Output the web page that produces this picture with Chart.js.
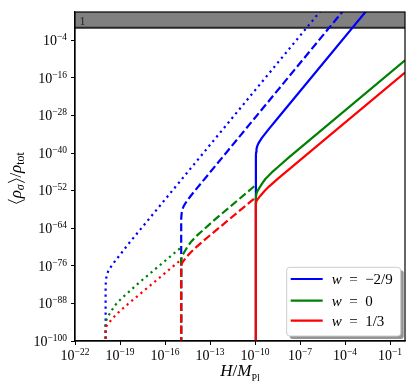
<!DOCTYPE html>
<html><head><meta charset="utf-8">
<script src="https://cdn.jsdelivr.net/npm/chart.js@4.4.1/dist/chart.umd.min.js"></script>
<style>html,body{margin:0;padding:0;background:#fff;}#wrap{width:418px;height:391px;position:relative;}</style>
</head><body><div id="wrap"><canvas id="c" width="418" height="391"></canvas></div>
<script>
// ---- tick exponents (log10) ----
const xTickExponents = [-22, -19, -16, -13, -10, -7, -4, -1];
const yTickExponents = [-100, -88, -76, -64, -52, -40, -28, -16, -4];
const legendLabels = ['\u22122/9', '0', '1/3'];
const seriesColors = ['#0000ff', '#008000', '#ff0000'];

// ---- curves: log10(H/M_Pl) and log10(<rho_sigma>/rho_tot) ----
// w = -2/9 (blue)
const blueDottedLogH   = [-19.96, -19.96, -19.945, -19.92, -19.87, -19.8, -19.7, -19.55, -19.33, -19.0, -18.5, -17.78, -10, -4];
const blueDottedLogRho = [-105, -82.6, -81.2, -80.0, -78.9, -77.9, -77.0, -75.9, -74.5, -72.5, -69.4, -65.2, -20.0, 14.8];
const blueDashedLogH   = [-14.92, -14.92, -14.905, -14.88, -14.83, -14.76, -14.66, -14.52, -14.3, -14.0, -13.5, -5.05, -3];
const blueDashedLogRho = [-105, -61.2, -60.0, -58.9, -57.9, -57.0, -56.2, -55.2, -53.8, -52.0, -49.1, 0, 11.9];
const blueSolidLogH    = [-9.94, -9.94, -9.925, -9.9, -9.85, -9.78, -9.68, -9.54, -9.32, -9.0, -8.5, -2];
const blueSolidLogRho  = [-105, -40.8, -39.7, -38.7, -37.8, -37.0, -36.2, -35.2, -33.8, -31.9, -29.0, 8.7];
// w = 0 (green)
const greenDottedLogH   = [-19.96, -19.96, -19.93, -19.85, -19.74, -19.55, -19.33, -18.9, -18.45, -17.78, -14.92];
const greenDottedLogRho = [-105, -95, -93.6, -92.6, -91.7, -90.2, -88.6, -86.4, -84.5, -81.6, -70.1];
const greenDashedLogH   = [-14.92, -14.92, -14.89, -14.81, -14.7, -14.51, -14.29, -13.86, -13.41, -12.74, -9.94];
const greenDashedLogRho = [-105, -74.5, -73.3, -72.4, -71.5, -70.0, -68.5, -66.3, -64.4, -61.5, -50.2];
const greenSolidLogH    = [-9.94, -9.94, -9.91, -9.83, -9.72, -9.53, -9.31, -8.88, -8.43, -7.76, 0];
const greenSolidLogRho  = [-105, -54.5, -53.0, -52.1, -51.2, -49.8, -48.3, -46.2, -44.3, -41.5, -10.4];
// w = 1/3 (red)
const redDottedLogH   = [-19.96, -19.96, -19.93, -19.85, -19.67, -19.4, -19.11, -18.45, -17.89, -14.92];
const redDottedLogRho = [-105, -96.3, -95.5, -94.9, -93.8, -92.3, -90.9, -88.1, -85.9, -74.0];
const redDashedLogH   = [-14.92, -14.92, -14.89, -14.81, -14.63, -14.36, -14.07, -13.41, -12, -9.94];
const redDashedLogRho = [-105, -76.3, -75.4, -74.7, -73.6, -72.1, -70.7, -67.9, -62.3, -54.1];
const redSolidLogH    = [-9.94, -9.94, -9.91, -9.83, -9.65, -9.38, -9.09, -8.43, -5, 0];
const redSolidLogRho  = [-105, -56.3, -55.4, -54.8, -53.7, -52.2, -50.8, -48.0, -34.3, -14.3];

const bandFrom = 1;   // shaded region rho >= rho_tot
const bandLabel = '1';

function pts(lh, lr) { return lh.map((v, i) => ({ x: Math.pow(10, v), y: Math.pow(10, lr[i]) })); }
const DOT = [2.2, 3.8], DASH = [8, 3.4], LW = 2.2;
function ds(lh, lr, color, dash) {
  return { data: pts(lh, lr), borderColor: color, borderWidth: LW, borderDash: dash,
           pointRadius: 0, fill: false, tension: 0, clip: 0, borderJoinStyle: 'round' };
}
// index 0 drawn on top
const datasets = [
  ds(redSolidLogH, redSolidLogRho, seriesColors[2], []),
  ds(redDashedLogH, redDashedLogRho, seriesColors[2], DASH),
  ds(redDottedLogH, redDottedLogRho, seriesColors[2], DOT),
  ds(greenSolidLogH, greenSolidLogRho, seriesColors[1], []),
  ds(greenDashedLogH, greenDashedLogRho, seriesColors[1], DASH),
  ds(greenDottedLogH, greenDottedLogRho, seriesColors[1], DOT),
  ds(blueSolidLogH, blueSolidLogRho, seriesColors[0], []),
  ds(blueDashedLogH, blueDashedLogRho, seriesColors[0], DASH),
  ds(blueDottedLogH, blueDottedLogRho, seriesColors[0], DOT)
];

const SERIF = '"Liberation Serif", "DejaVu Serif", serif';
function fnt(s, it) { return (it ? 'italic ' : '') + s + 'px ' + SERIF; }
function partW(ctx, p) { if (p.br) return p.s * 0.39; ctx.font = fnt(p.s, p.i); return ctx.measureText(p.t).width; }
function richWidth(ctx, parts) { let w = 0; for (const p of parts) w += partW(ctx, p); return w; }
function drawRich(ctx, parts, x, y) {
  ctx.textAlign = 'left'; ctx.textBaseline = 'alphabetic';
  for (const p of parts) {
    const w = partW(ctx, p);
    if (p.br) {
      // angle bracket drawn as a thin stroke
      const top = y - p.s * 0.74, bot = y + p.s * 0.25, mid = (top + bot) / 2;
      const xa = x + w * 0.25, xb = x + w * 0.8;
      ctx.save(); ctx.strokeStyle = ctx.fillStyle; ctx.lineWidth = 0.9; ctx.beginPath();
      if (p.br === 'l') { ctx.moveTo(xb, top); ctx.lineTo(xa, mid); ctx.lineTo(xb, bot); }
      else { ctx.moveTo(xa, top); ctx.lineTo(xb, mid); ctx.lineTo(xa, bot); }
      ctx.stroke(); ctx.restore();
    } else {
      ctx.font = fnt(p.s, p.i); ctx.fillText(p.t, x, y + (p.dy || 0));
    }
    x += w;
  }
}
function powParts(e) { return [{ t: '10', s: 14 }, { t: (e < 0 ? '\u2212' : '') + Math.abs(e), s: 9.5, dy: -5 }]; }

const bandPlugin = {
  id: 'band',
  beforeDatasetsDraw(chart) {
    const { ctx, chartArea: ca, scales: { y } } = chart;
    const yb = y.getPixelForValue(bandFrom);
    ctx.save();
    ctx.fillStyle = '#808080';
    ctx.fillRect(ca.left, ca.top, ca.right - ca.left, yb - ca.top);
    ctx.strokeStyle = '#262626'; ctx.lineWidth = 2;
    ctx.beginPath(); ctx.moveTo(ca.left, yb); ctx.lineTo(ca.right, yb); ctx.stroke();
    ctx.fillStyle = '#262626'; ctx.font = fnt(12, false); ctx.textAlign = 'left'; ctx.textBaseline = 'alphabetic';
    ctx.fillText(bandLabel, ca.left + 4.5, yb - 2.5);
    ctx.restore();
  }
};

const decorPlugin = {
  id: 'decor',
  afterDraw(chart) {
    const { ctx, chartArea: ca, scales: { x, y } } = chart;
    ctx.save();
    ctx.strokeStyle = '#000'; ctx.lineWidth = 1.2;
    ctx.strokeRect(ca.left, ca.top, ca.right - ca.left, ca.bottom - ca.top);
    ctx.fillStyle = '#000';
    for (const e of xTickExponents) {
      const px = x.getPixelForValue(Math.pow(10, e));
      const parts = powParts(e);
      const w = richWidth(ctx, parts);
      drawRich(ctx, parts, px - w / 2, ca.bottom + 19);
    }
    for (const e of yTickExponents) {
      const py = y.getPixelForValue(Math.pow(10, e));
      const parts = powParts(e);
      const w = richWidth(ctx, parts);
      drawRich(ctx, parts, ca.left - 8 - w, py + 4.7);
    }
    const xt = [{ t: 'H', s: 17, i: true }, { t: '/', s: 17 }, { t: 'M', s: 17, i: true }, { t: 'Pl', s: 10, dy: 5 }];
    const xw = richWidth(ctx, xt);
    drawRich(ctx, xt, (ca.left + ca.right) / 2 - xw / 2, ca.bottom + 35);
    const yt = [{ br: 'l', s: 17 }, { t: '\u03C1', s: 17, i: true }, { t: '\u03C3', s: 12, i: true, dy: 3.5 },
                { br: 'r', s: 17 }, { t: '/', s: 17 }, { t: '\u03C1', s: 17, i: true }, { t: 'tot', s: 12, dy: 3.5 }];
    const yw = richWidth(ctx, yt);
    ctx.save();
    ctx.translate(20.5, (ca.top + ca.bottom) / 2 + 2);
    ctx.rotate(-Math.PI / 2);
    drawRich(ctx, yt, -yw / 2, 0);
    ctx.restore();
    // legend
    const bw = 114, bh = 68.7;
    const bx = ca.right - 4.3 - bw, by = ca.bottom - 5 - bh;
    function rr(x0, y0, w, h, r) { ctx.beginPath(); ctx.moveTo(x0 + r, y0); ctx.arcTo(x0 + w, y0, x0 + w, y0 + h, r); ctx.arcTo(x0 + w, y0 + h, x0, y0 + h, r); ctx.arcTo(x0, y0 + h, x0, y0, r); ctx.arcTo(x0, y0, x0 + w, y0, r); ctx.closePath(); }
    rr(bx + 3, by + 3, bw, bh, 3); ctx.fillStyle = 'rgba(0,0,0,0.42)'; ctx.fill();
    rr(bx, by, bw, bh, 3); ctx.fillStyle = '#fff'; ctx.fill();
    ctx.strokeStyle = '#cccccc'; ctx.lineWidth = 1; ctx.stroke();
    const rows = [11.7, 33.4, 53.4];
    legendLabels.forEach((lab, i) => {
      const ry = by + rows[i];
      ctx.strokeStyle = seriesColors[i]; ctx.lineWidth = LW; ctx.setLineDash([]);
      ctx.beginPath(); ctx.moveTo(bx + 4, ry); ctx.lineTo(bx + 36, ry); ctx.stroke();
      ctx.fillStyle = '#000';
      drawRich(ctx, [{ t: 'w', s: 15, i: true }, { t: '\u2002=\u2002' + lab, s: 15 }], bx + 45, ry + 5);
    });
    ctx.restore();
  }
};

new Chart(document.getElementById('c'), {
  type: 'line',
  data: { datasets },
  options: {
    responsive: false, animation: false, devicePixelRatio: 1,
    layout: { padding: { top: 12, right: 13, left: 0, bottom: 0 } },
    plugins: { legend: { display: false }, tooltip: { enabled: false } },
    scales: {
      x: {
        type: 'logarithmic', min: 1e-22, max: 1, position: 'bottom',
        afterBuildTicks: s => { s.ticks = xTickExponents.map(e => ({ value: Math.pow(10, e) })); },
        afterFit: s => { s.height = 50; },
        ticks: { display: false },
        grid: { drawOnChartArea: false, drawTicks: true, tickLength: 4, color: '#000', lineWidth: 1 },
        border: { display: true, color: '#000', width: 1.2 }
      },
      y: {
        type: 'logarithmic', min: 1e-100, max: 1e5, position: 'left',
        afterBuildTicks: s => { s.ticks = yTickExponents.map(e => ({ value: Math.pow(10, e) })); },
        afterFit: s => { s.width = 75; },
        ticks: { display: false },
        grid: { drawOnChartArea: false, drawTicks: true, tickLength: 4, color: '#000', lineWidth: 1 },
        border: { display: true, color: '#000', width: 1.2 }
      }
    }
  },
  plugins: [bandPlugin, decorPlugin]
});
</script>
</body></html>
